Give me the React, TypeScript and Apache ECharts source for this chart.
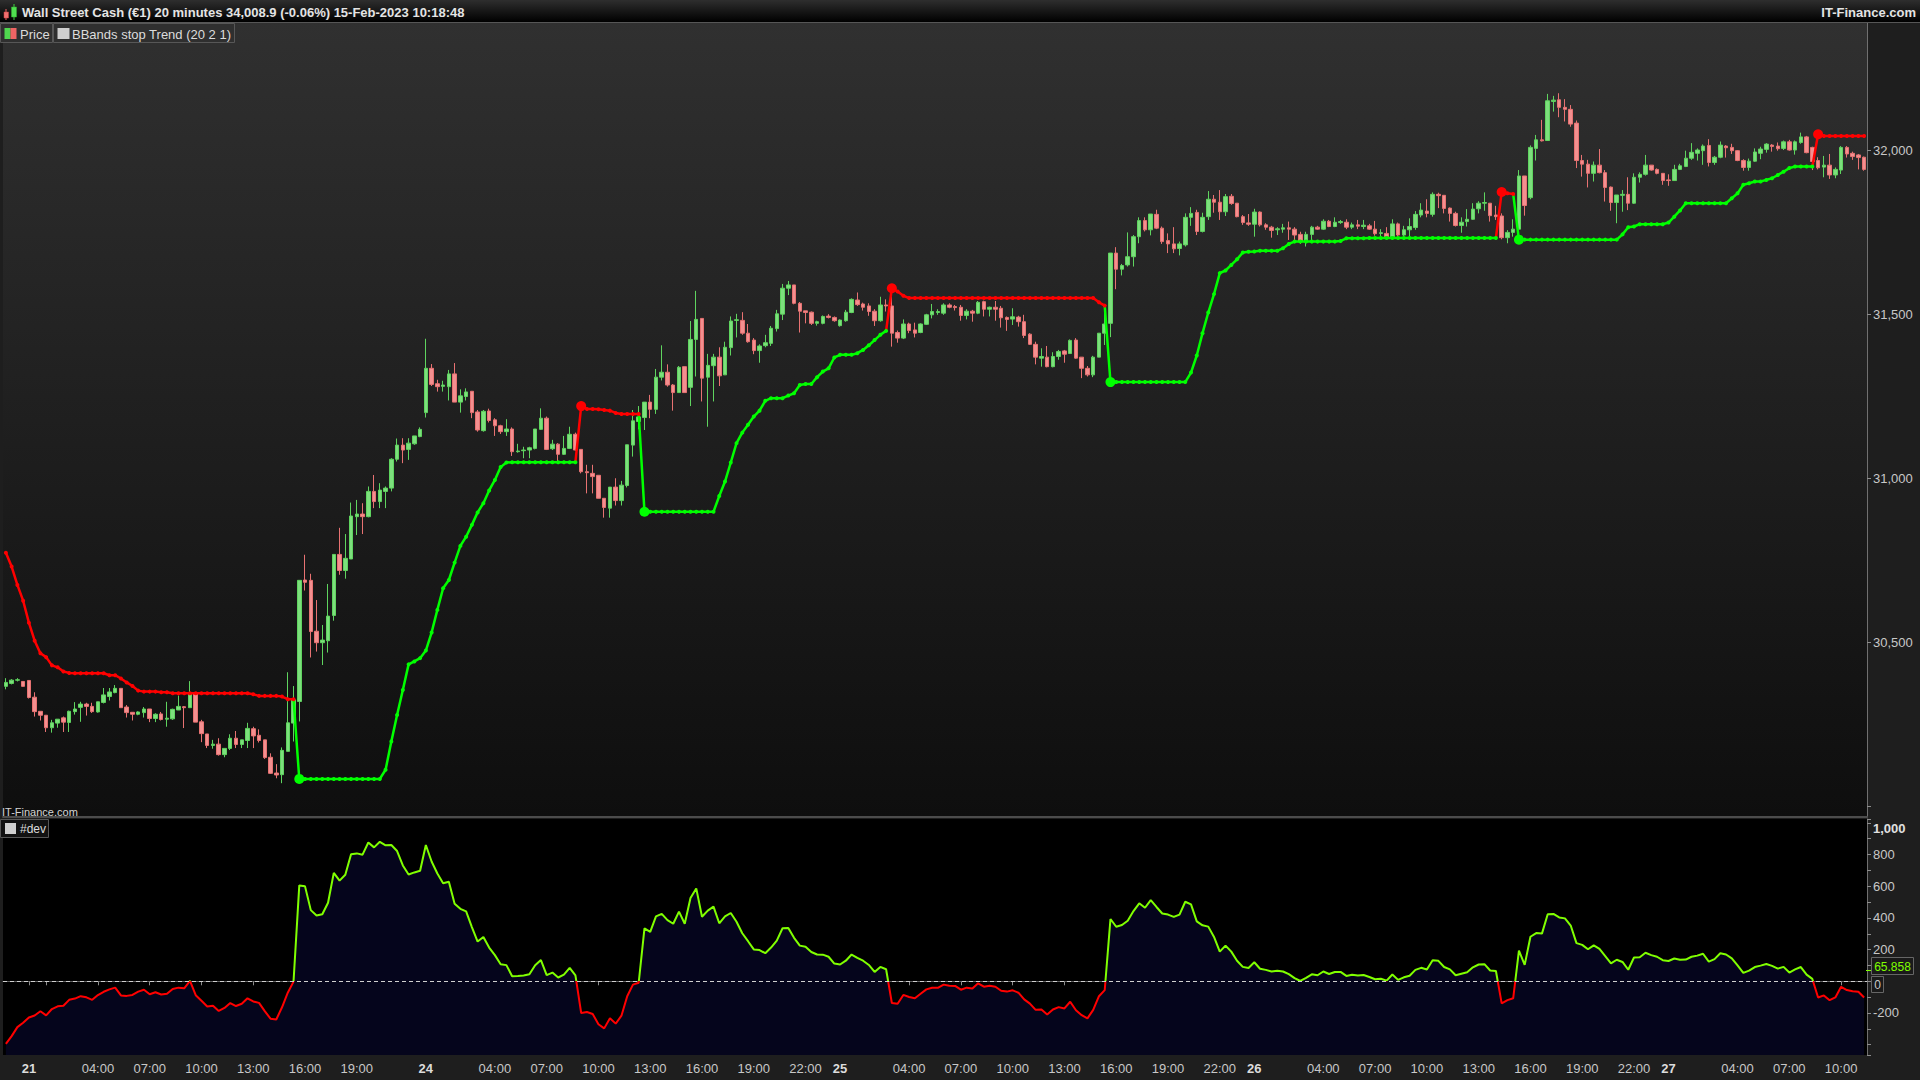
import React, { useEffect, useRef } from 'react';
import * as echarts from 'echarts';

const FONT = '"Liberation Sans", Arial, Helvetica, sans-serif';

// sessions of 20-minute bars: day label, first bar time, number of bars
const sessionDays: { day: string; start: string; count: number }[] = [
  { day: '20', start: '22:40', count: 4 },
  { day: '21', start: '00:00', count: 69 },
  { day: '24', start: '00:00', count: 72 },
  { day: '25', start: '00:00', count: 72 },
  { day: '26', start: '00:00', count: 72 },
  { day: '27', start: '00:00', count: 35 },
];

// [open, high, low, close]
const candles: number[][] = [
  [30366,30391,30357,30378],[30375,30388,30372,30385],[30385,30391,30381,30386],[30381,30382,30365,30366],[30384,30385,30329,30332],
  [30333,30348,30274,30289],[30290,30290,30262,30278],[30278,30278,30227,30240],[30240,30264,30225,30255],[30254,30266,30240,30266],
  [30270,30274,30227,30257],[30256,30292,30227,30290],[30289,30318,30280,30297],[30302,30319,30258,30312],[30312,30316,30277,30305],
  [30305,30316,30285,30289],[30288,30319,30286,30319],[30317,30361,30314,30340],[30335,30361,30323,30349],[30347,30370,30345,30360],
  [30360,30360,30301,30301],[30303,30309,30271,30286],[30287,30287,30262,30281],[30281,30290,30278,30288],[30286,30303,30271,30297],
  [30297,30297,30257,30268],[30268,30284,30257,30281],[30282,30288,30262,30265],[30266,30319,30243,30269],[30267,30298,30264,30296],
  [30294,30338,30294,30305],[30304,30306,30239,30301],[30301,30382,30301,30347],[30345,30345,30257,30257],[30258,30264,30196,30222],
  [30221,30221,30178,30186],[30186,30203,30176,30190],[30190,30208,30155,30158],[30158,30177,30150,30177],[30177,30220,30172,30208],
  [30208,30230,30178,30189],[30189,30203,30178,30203],[30201,30255,30178,30238],[30237,30243,30178,30215],[30217,30235,30195,30201],
  [30203,30203,30145,30149],[30150,30162,30099,30101],[30102,30129,30086,30096],[30097,30180,30071,30171],[30168,30409,30168,30255],
  [30254,30367,30198,30325],[30320,30689,30259,30689],[30690,30767,30658,30683],[30689,30709,30454,30533],[30534,30629,30472,30499],
  [30499,30553,30431,30507],[30505,30678,30469,30580],[30582,30768,30566,30768],[30768,30849,30706,30719],[30719,30830,30694,30756],
  [30754,30926,30754,30885],[30883,30934,30827,30891],[30891,30924,30830,30883],[30883,30975,30881,30960],[30960,31010,30909,30929],
  [30929,30985,30909,30964],[30960,30975,30909,30970],[30970,31061,30960,31058],[31058,31121,31051,31101],[31101,31122,31046,31086],
  [31088,31122,31056,31107],[31105,31129,31102,31129],[31127,31155,31125,31149],[31200,31425,31185,31335],[31335,31348,31281,31286],
  [31288,31300,31264,31279],[31280,31297,31264,31284],[31279,31330,31237,31318],[31318,31351,31232,31232],[31232,31271,31200,31251],
  [31249,31274,31237,31263],[31265,31265,31183,31200],[31202,31208,31142,31147],[31145,31208,31142,31204],[31205,31212,31170,31176],
  [31178,31183,31129,31160],[31160,31163,31135,31142],[31142,31180,31129,31150],[31150,31155,31068,31081],[31081,31105,31078,31083],
  [31084,31096,31061,31086],[31086,31096,31061,31093],[31091,31150,31088,31150],[31149,31213,31147,31183],[31183,31188,31086,31088],
  [31090,31117,31086,31104],[31104,31107,31051,31073],[31073,31129,31071,31091],[31091,31157,31089,31134],[31134,31139,31084,31086],
  [31088,31088,31015,31020],[31020,31041,30954,31017],[31015,31041,30954,31005],[31009,31010,30939,30939],[30939,30939,30880,30911],
  [30909,30973,30880,30973],[30973,31000,30917,30932],[30932,30992,30917,30979],[30978,31102,30972,31102],[31101,31208,31066,31175],
  [31173,31220,31149,31187],[31185,31232,31147,31232],[31232,31254,31183,31210],[31210,31333,31196,31308],[31308,31405,31298,31323],
  [31323,31347,31279,31284],[31284,31287,31206,31261],[31261,31342,31261,31338],[31340,31340,31261,31261],[31277,31479,31220,31423],
  [31423,31571,31310,31484],[31487,31487,31234,31305],[31308,31379,31157,31344],[31343,31379,31234,31369],[31369,31399,31281,31312],
  [31315,31416,31315,31399],[31398,31493,31374,31479],[31481,31501,31429,31483],[31481,31506,31437,31442],[31442,31470,31413,31416],
  [31421,31427,31378,31389],[31389,31408,31352,31403],[31404,31437,31399,31413],[31411,31464,31403,31457],[31456,31513,31447,31501],
  [31500,31592,31482,31579],[31579,31601,31558,31589],[31589,31589,31530,31533],[31533,31537,31444,31509],[31510,31510,31472,31505],
  [31506,31508,31467,31472],[31472,31480,31465,31477],[31472,31496,31469,31493],[31494,31500,31487,31490],[31490,31493,31477,31480],
  [31465,31484,31462,31482],[31480,31513,31477,31506],[31505,31548,31503,31545],[31543,31566,31525,31529],[31531,31535,31511,31521],
  [31525,31533,31495,31508],[31509,31515,31464,31480],[31480,31553,31477,31528],[31528,31545,31508,31525],[31525,31553,31401,31442],
  [31444,31450,31413,31427],[31427,31484,31424,31470],[31470,31474,31442,31450],[31452,31474,31429,31442],[31444,31472,31442,31470],
  [31469,31501,31467,31498],[31498,31531,31487,31508],[31505,31515,31498,31508],[31503,31533,31498,31528],[31528,31533,31518,31521],
  [31523,31528,31511,31520],[31521,31528,31480,31496],[31496,31515,31484,31509],[31509,31513,31477,31503],[31503,31540,31500,31536],
  [31538,31541,31493,31515],[31515,31523,31493,31521],[31521,31540,31480,31515],[31518,31525,31459,31489],[31490,31493,31449,31484],
  [31485,31518,31467,31492],[31491,31495,31462,31477],[31477,31498,31427,31435],[31439,31442,31406,31408],[31408,31416,31347,31369],
  [31366,31396,31340,31371],[31369,31403,31338,31340],[31340,31384,31338,31371],[31371,31391,31361,31386],[31388,31391,31352,31378],
  [31380,31423,31379,31420],[31421,31427,31364,31366],[31369,31369,31305,31335],[31335,31342,31310,31315],[31315,31373,31308,31369],
  [31369,31442,31369,31442],[31442,31518,31406,31470],[31472,31686,31430,31686],[31686,31704,31576,31637],[31637,31653,31618,31648],
  [31650,31749,31645,31675],[31675,31741,31645,31736],[31736,31795,31716,31785],[31785,31795,31752,31757],[31757,31805,31740,31805],
  [31804,31818,31759,31762],[31762,31767,31714,31721],[31724,31746,31686,31714],[31714,31765,31686,31699],[31700,31721,31679,31714],
  [31711,31807,31706,31795],[31795,31826,31769,31807],[31810,31818,31741,31752],[31752,31809,31749,31795],[31797,31875,31787,31850],
  [31850,31863,31809,31841],[31841,31878,31787,31812],[31812,31866,31799,31858],[31859,31866,31833,31837],[31838,31838,31795,31797],
  [31797,31802,31772,31779],[31778,31805,31769,31774],[31774,31821,31736,31811],[31811,31813,31767,31772],[31772,31777,31757,31765],
  [31765,31769,31733,31755],[31757,31765,31741,31760],[31759,31775,31748,31763],[31763,31782,31726,31759],[31759,31765,31726,31741],
  [31743,31751,31714,31723],[31721,31751,31706,31743],[31743,31769,31721,31765],[31765,31769,31757,31759],[31759,31789,31757,31783],
  [31783,31787,31765,31767],[31767,31795,31765,31780],[31779,31787,31775,31782],[31780,31789,31759,31765],[31765,31779,31759,31772],
  [31772,31787,31759,31768],[31767,31787,31759,31771],[31769,31775,31757,31759],[31759,31784,31739,31745],[31746,31759,31736,31748],
  [31746,31765,31731,31736],[31736,31789,31731,31775],[31775,31779,31736,31741],[31741,31769,31736,31757],[31757,31792,31734,31767],
  [31764,31814,31757,31804],[31802,31838,31795,31817],[31814,31850,31795,31807],[31804,31871,31797,31865],[31865,31870,31823,31861],
  [31862,31862,31807,31822],[31823,31825,31782,31807],[31807,31812,31767,31770],[31770,31795,31748,31780],[31782,31820,31767,31789],
  [31789,31838,31787,31820],[31821,31844,31807,31838],[31838,31871,31815,31840],[31838,31838,31782,31800],[31802,31830,31787,31797],
  [31799,31807,31728,31733],[31733,31756,31716,31749],[31749,31789,31736,31759],[31759,31939,31757,31921],[31921,31921,31800,31831],
  [31855,32014,31850,32008],[32005,32046,31968,32031],[32031,32092,32026,32028],[32029,32171,32029,32150],[32148,32165,32117,32152],
  [32153,32173,32100,32130],[32130,32155,32087,32124],[32124,32137,32071,32079],[32082,32090,31945,31968],[31968,31985,31919,31957],
  [31957,31970,31886,31929],[31929,31965,31904,31954],[31954,32003,31929,31931],[31931,31939,31843,31886],[31887,31889,31815,31840],
  [31840,31863,31777,31863],[31862,31878,31812,31865],[31865,31917,31817,31838],[31838,31929,31836,31917],[31917,31932,31901,31926],
  [31926,31985,31922,31954],[31954,31954,31937,31939],[31941,31944,31926,31929],[31929,31929,31894,31907],[31909,31926,31891,31907],
  [31907,31955,31907,31941],[31941,31958,31939,31952],[31950,31998,31948,31975],[31975,32021,31970,31993],[31990,32005,31968,32000],
  [31998,32017,31955,32012],[32014,32033,31950,31962],[31962,31982,31955,31978],[31978,32026,31975,32015],[32012,32015,31977,32007],
  [32008,32019,31988,31998],[31998,32000,31966,31968],[31968,31972,31937,31947],[31947,31974,31937,31966],[31966,32005,31964,31994],
  [31990,32010,31972,32003],[32002,32021,31992,32018],[32015,32018,31995,32011],[32012,32023,31998,32004],[32005,32029,32000,32025],
  [32025,32031,31998,32000],[32000,32029,31986,32025],[32023,32053,32019,32040],[32040,32043,31990,31992],[32008,32010,31939,31965],
  [31968,31978,31941,31946],[31948,31982,31917,31954],[31954,31988,31912,31924],[31924,31947,31914,31941],[31939,32012,31927,32008],
  [32008,32012,31977,31988],[31990,31995,31970,31980],[31985,31988,31941,31977],[31978,31980,31937,31941],
];

// BBands stop Trend level for each bar
const stopLevel: number[] = [
  30773,30731,30675,30627,30560,30505,30467,30455,30430,30424,
  30411,30407,30406,30406,30406,30406,30406,30406,30400,30400,
  30390,30378,30367,30353,30350,30350,30350,30348,30348,30345,
  30345,30345,30345,30345,30345,30345,30345,30345,30345,30345,
  30345,30345,30345,30342,30337,30337,30337,30337,30335,30327,
  30327,30084,30084,30084,30084,30084,30084,30084,30084,30084,
  30084,30084,30084,30084,30084,30084,30112,30198,30279,30355,
  30433,30442,30452,30475,30530,30599,30665,30690,30743,30794,
  30822,30858,30896,30924,30963,30995,31034,31048,31049,31049,
  31049,31049,31049,31049,31049,31049,31049,31049,31049,31049,
  31220,31211,31211,31210,31208,31206,31199,31196,31196,31196,
  31196,30898,30898,30898,30898,30898,30898,30898,30898,30898,
  30898,30898,30898,30898,30946,30990,31048,31107,31139,31163,
  31188,31206,31236,31244,31244,31244,31252,31259,31284,31287,
  31287,31308,31325,31335,31368,31376,31376,31376,31381,31391,
  31405,31421,31437,31449,31579,31569,31556,31549,31549,31549,
  31549,31549,31549,31549,31549,31549,31549,31549,31549,31549,
  31549,31549,31549,31549,31549,31549,31549,31549,31549,31549,
  31549,31549,31549,31549,31549,31549,31549,31549,31549,31549,
  31536,31526,31293,31293,31293,31293,31293,31293,31293,31293,
  31293,31293,31293,31293,31293,31293,31322,31374,31442,31505,
  31561,31625,31633,31650,31667,31688,31690,31691,31693,31693,
  31693,31693,31701,31714,31721,31721,31721,31721,31721,31721,
  31721,31721,31723,31731,31731,31731,31731,31732,31732,31732,
  31732,31732,31732,31732,31732,31732,31732,31732,31732,31732,
  31732,31732,31732,31732,31732,31732,31732,31732,31732,31732,
  31872,31868,31866,31727,31727,31727,31727,31727,31727,31727,
  31727,31727,31727,31727,31727,31727,31727,31727,31727,31727,
  31727,31743,31765,31767,31774,31774,31774,31774,31774,31779,
  31797,31816,31838,31838,31838,31838,31838,31838,31838,31838,
  31853,31868,31894,31899,31904,31904,31909,31914,31924,31934,
  31945,31950,31950,31950,31950,32048,32043,32043,32043,32043,
  32043,32043,32043,32043,
];

// first bar of each trend leg
const trendStarts: [number, 'up' | 'down'][] = [
  [0, 'down'], [51, 'up'], [100, 'down'], [111, 'up'], [154, 'down'],
  [192, 'up'], [260, 'down'], [263, 'up'], [315, 'down'],
];

// #dev indicator
const devValues: number[] = [
  -395,-346,-289,-261,-228,-216,-189,-215,-175,-158,
  -154,-117,-109,-94,-101,-117,-87,-66,-51,-40,
  -89,-92,-86,-65,-53,-82,-69,-83,-79,-49,
  -40,-44,2,-88,-123,-159,-155,-187,-168,-137,
  -156,-142,-107,-127,-136,-188,-236,-241,-164,-72,
  -2,605,599,449,415,423,496,684,635,672,
  801,807,799,876,845,880,858,860,822,731,
  674,687,697,860,756,680,619,628,489,457,
  441,342,251,280,213,165,108,102,32,34,
  37,44,101,134,39,55,24,42,85,37,
  -200,-194,-206,-271,-297,-233,-267,-217,-94,-21,
  -9,334,312,410,425,386,363,440,363,525,
  586,407,446,471,366,409,431,376,303,253,
  201,197,177,213,257,335,337,274,225,218,
  185,169,168,155,112,106,130,169,148,130,
  103,59,91,76,-137,-142,-86,-99,-107,-79,
  -51,-41,-41,-21,-28,-29,-53,-40,-46,-13,
  -34,-28,-34,-60,-65,-57,-72,-114,-141,-180,
  -178,-209,-178,-163,-171,-129,-183,-214,-234,-180,
  -94,-56,393,344,355,382,443,492,464,512,
  469,428,421,406,421,502,485,378,353,345,
  280,187,225,187,130,91,84,120,79,72,
  62,67,62,45,20,2,22,44,38,62,
  46,59,59,34,41,37,40,27,13,16,
  4,43,9,25,35,72,85,75,133,129,
  90,75,38,48,57,88,106,108,68,65,
  -139,-119,-107,194,104,281,304,301,423,425,
  403,397,352,241,230,202,227,204,159,113,
  136,122,73,150,152,180,165,155,133,128,
  144,136,137,155,162,174,124,140,177,169,
  145,100,53,67,90,99,109,97,80,91,
  55,75,90,42,15,-102,-89,-119,-102,-35,
  -55,-63,-66,-102,
];

const priceTickLabels = [30500, 31000, 31500, 32000];
const devTickLabels = [-200, 200, 400, 600, 800];
const devLastLabel = 65.858;

const titleText = 'Wall Street Cash (€1) 20 minutes 34,008.9 (-0.06%) 15-Feb-2023 10:18:48';

function pad(n: number) { return n < 10 ? '0' + n : String(n); }

function buildCategories(): string[] {
  const out: string[] = [];
  sessionDays.forEach((s) => {
    const [h, m] = s.start.split(':').map(Number);
    let t = h * 60 + m;
    for (let k = 0; k < s.count; k++) {
      out.push(`${s.day} ${pad(Math.floor(t / 60))}:${pad(t % 60)}`);
      t += 20;
    }
  });
  return out;
}

function buildOption() {
  const categories = buildCategories();
  const N = categories.length;
  const dayStarts: number[] = [];
  categories.forEach((c, i) => { if (c.endsWith(' 00:00')) dayStarts.push(i); });
  const tickSet = new Set<number>();
  const labelSet = new Set<number>();
  categories.forEach((c, i) => {
    const t = c.split(' ')[1];
    const [hh, mm] = t.split(':').map(Number);
    if (t === '00:00') { tickSet.add(i); labelSet.add(i); return; }
    if (mm === 0 && hh % 3 === 1) {
      tickSet.add(i);
      const near = dayStarts.some((d) => Math.abs(d - i) <= 4);
      if (!near) labelSet.add(i);
    }
  });

  const candleData = candles.map((c) => [c[0], c[3], c[2], c[1]]);

  const redData: any[] = new Array(N).fill(null);
  const greenData: any[] = new Array(N).fill(null);
  trendStarts.forEach(([start, dir], k) => {
    const end = k + 1 < trendStarts.length ? trendStarts[k + 1][0] - 1 : N - 1;
    const arr = dir === 'up' ? greenData : redData;
    if (start > 0) arr[start - 1] = { value: stopLevel[start - 1], symbol: 'none' };
    for (let i = start; i <= end; i++) {
      arr[i] = i === start && start > 0 ? { value: stopLevel[i], symbolSize: 10 } : stopLevel[i];
    }
  });

  const stopLine = (name: string, data: any[], color: string) => ({
    type: 'line', name, data, xAxisIndex: 0, yAxisIndex: 0,
    symbol: 'circle', symbolSize: 4, showSymbol: true, showAllSymbol: true,
    connectNulls: false, z: 4,
    lineStyle: { color, width: 2.5 },
    itemStyle: { color },
    emphasis: { disabled: true },
  });

  const lbl = { color: '#c8c8c8', fontSize: 13, fontFamily: FONT };

  return {
    animation: false,
    backgroundColor: '#1e1e1e',
    textStyle: { fontFamily: FONT },
    grid: [
      {
        left: 3, right: 53, top: 23, height: 794, show: true, borderWidth: 0,
        backgroundColor: new echarts.graphic.LinearGradient(0, 0, 0, 1, [
          { offset: 0, color: '#303030' }, { offset: 1, color: '#0e0e0e' },
        ]),
      },
      { left: 3, right: 53, top: 819, height: 236, show: true, borderWidth: 0, backgroundColor: '#000000' },
    ],
    xAxis: [
      {
        type: 'category', gridIndex: 0, data: categories, boundaryGap: true,
        axisLine: { show: true, lineStyle: { color: '#4c4c4c', width: 2 } },
        axisTick: { show: false }, axisLabel: { show: false }, splitLine: { show: false },
      },
      {
        type: 'category', gridIndex: 1, data: categories, boundaryGap: true,
        axisLine: { show: true, lineStyle: { color: '#5c5c5c' } },
        axisTick: { show: true, alignWithLabel: true, interval: (i: number) => tickSet.has(i), length: 4, lineStyle: { color: '#8c8c8c' } },
        axisLabel: {
          ...lbl, margin: 7,
          interval: (i: number) => labelSet.has(i),
          formatter: (v: string) => {
            const [d, t] = v.split(' ');
            return t === '00:00' ? `{d|${d}}` : t;
          },
          rich: { d: { fontWeight: 'bold', fontSize: 13, color: '#dcdcdc', fontFamily: FONT } },
        },
        splitLine: { show: false },
      },
    ],
    yAxis: [
      {
        type: 'value', gridIndex: 0, position: 'right', min: 29968, max: 32387, splitNumber: 5,
        splitLine: { show: false },
        axisLine: { show: true, lineStyle: { color: '#707070' } },
        axisTick: { show: true, length: 4, lineStyle: { color: '#8c8c8c' } },
        axisLabel: {
          ...lbl, margin: 6, showMinLabel: false, showMaxLabel: false,
          formatter: (v: number) => (priceTickLabels.includes(v) ? v.toLocaleString('en-US') : ''),
        },
      },
      {
        type: 'value', gridIndex: 1, position: 'right', min: -465, max: 1024, splitNumber: 7,
        splitLine: { show: false },
        axisLine: { show: true, lineStyle: { color: '#707070' } },
        axisTick: { show: true, length: 4, lineStyle: { color: '#8c8c8c' } },
        minorTick: { show: true, splitNumber: 2, length: 4, lineStyle: { color: '#8c8c8c' } },
        axisLabel: {
          ...lbl, margin: 6, showMinLabel: false, showMaxLabel: false,
          formatter: (v: number) => {
            if (v === 1000) return '{b|1,000}';
            return devTickLabels.includes(v) ? String(v) : '';
          },
          rich: { b: { fontWeight: 'bold', fontSize: 13, color: '#e0e0e0', fontFamily: FONT, padding: [12, 0, 0, 0] } },
        },
      },
    ],
    visualMap: [
      {
        type: 'piecewise', show: false, seriesIndex: 3, dimension: 1,
        pieces: [
          { gt: -100000, lte: 0, color: '#ff0000' },
          { gt: 0, lte: 100000, color: '#80ff00' },
        ],
      },
    ],
    series: [
      {
        type: 'candlestick', name: 'Price', xAxisIndex: 0, yAxisIndex: 0, data: candleData,
        barWidth: 4, z: 3,
        itemStyle: { color: '#7ddf7d', color0: '#f39090', borderColor: '#5fd45f', borderColor0: '#e87272', borderWidth: 1 },
      },
      stopLine('BBands stop Trend down', redData, '#ff0000'),
      stopLine('BBands stop Trend up', greenData, '#00ff00'),
      {
        type: 'line', name: '#dev', xAxisIndex: 1, yAxisIndex: 1, data: devValues,
        symbol: 'none', lineStyle: { width: 2 },
        areaStyle: { color: '#05051c', opacity: 1, origin: 'start' },
        markLine: {
          silent: true, symbol: ['none', 'none'], animation: false,
          label: { show: false },
          data: [{ yAxis: 0, lineStyle: { type: [4, 3], color: '#d0d0d0', width: 1 } }],
        },
      },
    ],
    graphic: [
      // title bar
      {
        type: 'rect', z: 50, shape: { x: 0, y: 0, width: 1920, height: 22 },
        style: {
          fill: new echarts.graphic.LinearGradient(0, 0, 0, 1, [
            { offset: 0, color: '#2e2e2e' }, { offset: 1, color: '#000000' },
          ]),
        },
      },
      { type: 'line', z: 51, shape: { x1: 0, y1: 22.5, x2: 1920, y2: 22.5 }, style: { stroke: '#565656', lineWidth: 1 } },
      { type: 'line', z: 52, shape: { x1: 6, y1: 9, x2: 6, y2: 20 }, style: { stroke: '#f06060', lineWidth: 1 } },
      { type: 'rect', z: 52, shape: { x: 4, y: 12, width: 4.5, height: 6 }, style: { fill: '#f07070', stroke: '#d04040', lineWidth: 0.5 } },
      { type: 'line', z: 52, shape: { x1: 14, y1: 4, x2: 14, y2: 20 }, style: { stroke: '#40d040', lineWidth: 1 } },
      { type: 'rect', z: 52, shape: { x: 11.5, y: 7, width: 5, height: 10 }, style: { fill: '#50e050', stroke: '#30b030', lineWidth: 0.5 } },
      {
        type: 'text', z: 53, x: 22, y: 12,
        style: { text: titleText, fill: '#e4e4e4', font: `bold 13px ${FONT}`, verticalAlign: 'middle' },
      },
      {
        type: 'text', z: 53, x: 1916, y: 12,
        style: { text: 'IT-Finance.com', fill: '#e4e4e4', font: `bold 13px ${FONT}`, align: 'right', verticalAlign: 'middle' },
      },
      // legend of main panel
      { type: 'rect', z: 60, shape: { x: 0.5, y: 23.5, width: 52, height: 19 }, style: { fill: '#2f2f2f', stroke: '#575757', lineWidth: 1 } },
      { type: 'rect', z: 61, shape: { x: 4.5, y: 28, width: 6, height: 11 }, style: { fill: '#4fd84f' } },
      { type: 'rect', z: 61, shape: { x: 10.5, y: 28, width: 6, height: 11 }, style: { fill: '#f06464' } },
      { type: 'text', z: 61, x: 20, y: 34, style: { text: 'Price', fill: '#dcdcdc', font: `13px ${FONT}`, verticalAlign: 'middle' } },
      { type: 'rect', z: 60, shape: { x: 53.5, y: 23.5, width: 181, height: 19 }, style: { fill: '#2f2f2f', stroke: '#575757', lineWidth: 1 } },
      { type: 'rect', z: 61, shape: { x: 57.5, y: 28, width: 12, height: 11 }, style: { fill: '#cfcfcf' } },
      { type: 'text', z: 61, x: 72, y: 34, style: { text: 'BBands stop Trend (20 2 1)', fill: '#dcdcdc', font: `13px ${FONT}`, verticalAlign: 'middle' } },
      // watermark
      { type: 'text', z: 61, x: 2, y: 812, style: { text: 'IT-Finance.com', fill: '#d4d4d4', font: `11px ${FONT}`, verticalAlign: 'middle' } },
      // legend of lower panel
      { type: 'rect', z: 60, shape: { x: 0.5, y: 819.5, width: 48, height: 18 }, style: { fill: '#111111', stroke: '#575757', lineWidth: 1 } },
      { type: 'rect', z: 61, shape: { x: 5, y: 823, width: 11, height: 11 }, style: { fill: '#cfcfcf' } },
      { type: 'text', z: 61, x: 20, y: 829, style: { text: '#dev', fill: '#dcdcdc', font: `12px ${FONT}`, verticalAlign: 'middle' } },
      // value boxes on lower axis
      { type: 'line', z: 61, shape: { x1: 1866, y1: 970.5, x2: 1871, y2: 970.5 }, style: { stroke: '#80ff00', lineWidth: 1 } },
      { type: 'rect', z: 60, shape: { x: 1871.5, y: 957.5, width: 42, height: 17 }, style: { fill: '#1a1a1a', stroke: '#666666', lineWidth: 1 } },
      { type: 'text', z: 61, x: 1892.5, y: 966.5, style: { text: String(devLastLabel), fill: '#80ff00', font: `12px ${FONT}`, align: 'center', verticalAlign: 'middle' } },
      { type: 'rect', z: 60, shape: { x: 1871.5, y: 976.5, width: 12, height: 16 }, style: { fill: '#1a1a1a', stroke: '#666666', lineWidth: 1 } },
      { type: 'text', z: 61, x: 1877.5, y: 985, style: { text: '0', fill: '#c8c8c8', font: `12px ${FONT}`, align: 'center', verticalAlign: 'middle' } },
    ],
  };
}

export default function App() {
  const ref = useRef<HTMLDivElement>(null);
  useEffect(() => {
    if (!ref.current) return;
    const chart = echarts.init(ref.current, undefined, { renderer: 'svg', width: 1920, height: 1080 });
    chart.setOption(buildOption() as any);
    return () => chart.dispose();
  }, []);
  return <div ref={ref} style={{ position: 'fixed', left: 0, top: 0, width: 1920, height: 1080 }} />;
}
